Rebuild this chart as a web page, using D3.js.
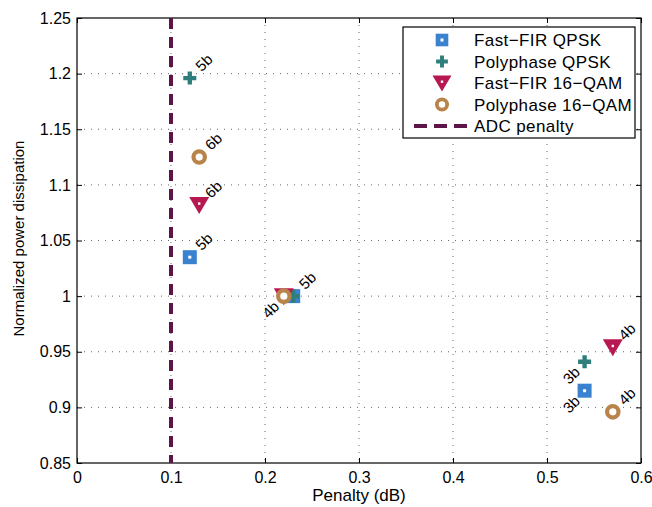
<!DOCTYPE html>
<html>
<head>
<meta charset="utf-8">
<script src="https://cdn.jsdelivr.net/npm/d3@7"></script>
<style>
  body { margin: 0; background: #fff; }
  text { font-family: "Liberation Sans", Arial, sans-serif; }
</style>
</head>
<body>
<svg width="652" height="507"></svg>
<script>
// data
var seriesNames = ["Fast\u2212FIR QPSK", "Polyphase QPSK", "Fast\u2212FIR 16\u2212QAM", "Polyphase 16\u2212QAM"];
var fastQpskX = [0.12, 0.23, 0.54];
var fastQpskY = [1.035, 1.0, 0.915];
var fastQpskLbl = ["5b", "5b", "3b"];
var polyQpskX = [0.12, 0.23, 0.54];
var polyQpskY = [1.196, 1.0, 0.941];
var polyQpskLbl = ["5b", "", "3b"];
var fast16X = [0.13, 0.22, 0.57];
var fast16Y = [1.082, 1.0, 0.954];
var fast16Lbl = ["6b", "", "4b"];
var poly16X = [0.13, 0.22, 0.57];
var poly16Y = [1.125, 1.0, 0.896];
var poly16Lbl = ["6b", "4b", "4b"];
// label side: 1 = up-right, -1 = down-left
var fastQpskSide = [1, 1, -1];
var polyQpskSide = [1, 1, -1];
var fast16Side = [1, 1, 1];
var poly16Side = [1, -1, 1];
var adcPenalty = 0.1;
var xTicks = [0, 0.1, 0.2, 0.3, 0.4, 0.5, 0.6];
var yTicks = [0.85, 0.9, 0.95, 1, 1.05, 1.1, 1.15, 1.2, 1.25];

var svg = d3.select("svg");
var margins = {left: 77, right: 11, top: 18, bottom: 44};
var width = 652 - margins.left - margins.right;
var height = 507 - margins.top - margins.bottom;

var xscale = d3.scaleLinear().domain([0, 0.6]).range([0, width]);
var yscale = d3.scaleLinear().domain([0.85, 1.25]).range([height, 0]);

var plot = svg.append("g")
  .attr("transform", "translate(" + margins.left + "," + margins.top + ")");

// grid
plot.selectAll(".gx").data(xTicks.slice(1, -1)).enter().append("line")
  .attr("x1", d => xscale(d)).attr("x2", d => xscale(d))
  .attr("y1", 0).attr("y2", height)
  .attr("stroke", "#666").attr("stroke-width", 1).attr("stroke-dasharray", "1,6");
plot.selectAll(".gy").data(yTicks.slice(1, -1)).enter().append("line")
  .attr("y1", d => yscale(d)).attr("y2", d => yscale(d))
  .attr("x1", 0).attr("x2", width)
  .attr("stroke", "#666").attr("stroke-width", 1).attr("stroke-dasharray", "1,6");

// axes
var xAxis = d3.axisBottom(xscale).tickValues(xTicks).tickSize(-5).tickPadding(9).tickFormat(d3.format("~g"));
var yAxis = d3.axisLeft(yscale).tickValues(yTicks).tickSize(-5).tickPadding(6).tickFormat(d3.format("~g"));
var gx = plot.append("g").attr("transform", "translate(0," + height + ")").call(xAxis);
var gy = plot.append("g").call(yAxis);
var gx2 = plot.append("g").call(d3.axisTop(xscale).tickValues(xTicks).tickSize(-5).tickFormat(""));
var gy2 = plot.append("g").attr("transform", "translate(" + width + ",0)")
  .call(d3.axisRight(yscale).tickValues(yTicks).tickSize(-5).tickFormat(""));
[gx, gy, gx2, gy2].forEach(function(g) {
  g.select(".domain").remove();
  g.selectAll("line").attr("stroke", "#000");
  g.selectAll("text").attr("font-size", 16).attr("fill", "#000")
    .style("font-family", "'Liberation Sans', Arial, sans-serif");
});
plot.append("rect").attr("width", width).attr("height", height)
  .attr("fill", "none").attr("stroke", "#000").attr("stroke-width", 1.2);

// ADC penalty line
plot.append("line")
  .attr("x1", xscale(adcPenalty)).attr("x2", xscale(adcPenalty))
  .attr("y1", 0).attr("y2", height)
  .attr("stroke", "#5e1446").attr("stroke-width", 4).attr("stroke-dasharray", "11,8");

// markers
var colors = ["#3a82d0", "#2e7f7c", "#b81852", "#b98449"];
function drawMarker(g, k, x, y, s) {
  if (k == 0) {
    g.append("rect").attr("x", x - 7 * s).attr("y", y - 7 * s).attr("width", 14 * s).attr("height", 14 * s)
      .attr("fill", colors[0]);
    g.append("rect").attr("x", x - 1.5).attr("y", y - 1.5).attr("width", 3).attr("height", 3).attr("fill", "#fff");
  } else if (k == 1) {
    g.append("path").attr("d", d3.symbol().type(d3.symbolCross).size(95 * s * s)()).attr("transform", "translate(" + x + "," + y + ")")
      .attr("fill", colors[1]);
  } else if (k == 2) {
    var w = 10 * s;
    g.append("path").attr("d", "M" + (x - w) + "," + (y - 8 * s) + "L" + (x + w) + "," + (y - 8 * s) + "L" + x + "," + (y + 9 * s) + "Z")
      .attr("fill", colors[2]);
    g.append("rect").attr("x", x - 1.2).attr("y", y - 2.5).attr("width", 2.4).attr("height", 2.4).attr("fill", "#fff");
  } else {
    g.append("circle").attr("cx", x).attr("cy", y).attr("r", 5.7 * s)
      .attr("fill", "#fff").attr("stroke", colors[3]).attr("stroke-width", 4.2 * s);
  }
}

var allX = [fastQpskX, polyQpskX, fast16X, poly16X];
var allY = [fastQpskY, polyQpskY, fast16Y, poly16Y];
var allLbl = [fastQpskLbl, polyQpskLbl, fast16Lbl, poly16Lbl];
var allSide = [fastQpskSide, polyQpskSide, fast16Side, poly16Side];
var drawOrder = [0, 1, 2, 3];
drawOrder.forEach(function(k) {
  allX[k].forEach(function(xv, i) {
    drawMarker(plot, k, xscale(xv), yscale(allY[k][i]), 1);
  });
});
drawOrder.forEach(function(k) {
  allX[k].forEach(function(xv, i) {
    if (!allLbl[k][i]) return;
    var side = allSide[k][i];
    var px = xscale(xv) + side * 11, py = yscale(allY[k][i]) - (side > 0 ? 7 : -4);
    plot.append("text")
      .attr("transform", "translate(" + px + "," + py + ") rotate(-45)")
      .attr("text-anchor", side > 0 ? "start" : "end")
      .attr("dy", side > 0 ? "0.1em" : "0.7em")
      .attr("font-size", 15).text(allLbl[k][i]);
  });
});

// axis labels
svg.append("text").attr("x", margins.left + width / 2).attr("y", 501)
  .attr("text-anchor", "middle").attr("font-size", 17).text("Penalty (dB)");
svg.append("text").attr("transform", "translate(24," + (margins.top + height / 2 - 2) + ") rotate(-90)")
  .attr("text-anchor", "middle").attr("font-size", 15).text("Normalized power dissipation");

// legend
var legend = svg.append("g").attr("transform", "translate(403,27)");
legend.append("rect").attr("width", 232).attr("height", 111)
  .attr("fill", "#fff").attr("stroke", "#000").attr("stroke-width", 1.2);
var legendNames = seriesNames.concat(["ADC penalty"]);
legendNames.forEach(function(name, i) {
  var cy = 13 + i * 21.5;
  if (i < 4) {
    drawMarker(legend, i, 39, cy, i == 2 ? 0.95 : 0.9);
  } else {
    legend.append("line").attr("x1", 11).attr("x2", 65).attr("y1", cy).attr("y2", cy)
      .attr("stroke", "#5e1446").attr("stroke-width", 4).attr("stroke-dasharray", "13,7");
  }
  legend.append("text").attr("x", 71).attr("y", cy).attr("dy", "0.36em")
    .attr("font-size", 17).attr("letter-spacing", 0.4).text(name);
});
</script>
</body>
</html>
